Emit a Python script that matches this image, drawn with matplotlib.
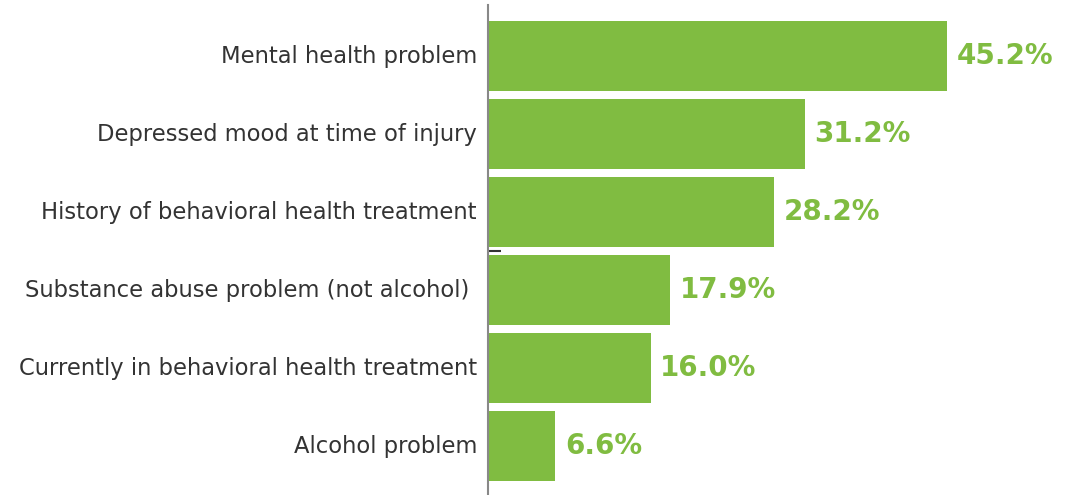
import matplotlib.pyplot as plt

categories = [
    "Mental health problem",
    "Depressed mood at time of injury",
    "History of behavioral health treatment",
    "Substance abuse problem (not alcohol) ",
    "Currently in behavioral health treatment",
    "Alcohol problem",
]
values = [45.2, 31.2, 28.2, 17.9, 16.0, 6.6]
value_labels = ["45.2%", "31.2%", "28.2%", "17.9%", "16.0%", "6.6%"]

green = "#80bc41"

fig = plt.figure(figsize=(10.66, 4.95), dpi=100)
ax = fig.add_axes([488 / 1066, 0, 1 - 488 / 1066, 1 - 5 / 495])

pos = list(range(len(categories)))
ax.barh(pos, values, height=0.9, color=green)

ax.set_xlim(0, 56.9)
ax.set_ylim(5.628, -0.654)

ax.set_yticks(pos)
ax.set_yticklabels(categories, fontsize=16.3, color="#333333", va="center")
ax.tick_params(axis="y", which="major", length=0, pad=8)
ax.set_yticks([2.5], minor=True)
ax.tick_params(axis="y", which="minor", direction="in", length=9, width=1.5, color="#333333")
ax.set_xticks([])

for s in ["top", "right", "bottom"]:
    ax.spines[s].set_visible(False)
ax.spines["left"].set_color("#888888")
ax.spines["left"].set_linewidth(1.5)

for p, v, lab in zip(pos, values, value_labels):
    ax.annotate(lab, (v, p), xytext=(7, 0), textcoords="offset points",
                va="center", ha="left", fontsize=20, fontweight="bold", color=green)

fig.savefig("out.png", dpi=100)
